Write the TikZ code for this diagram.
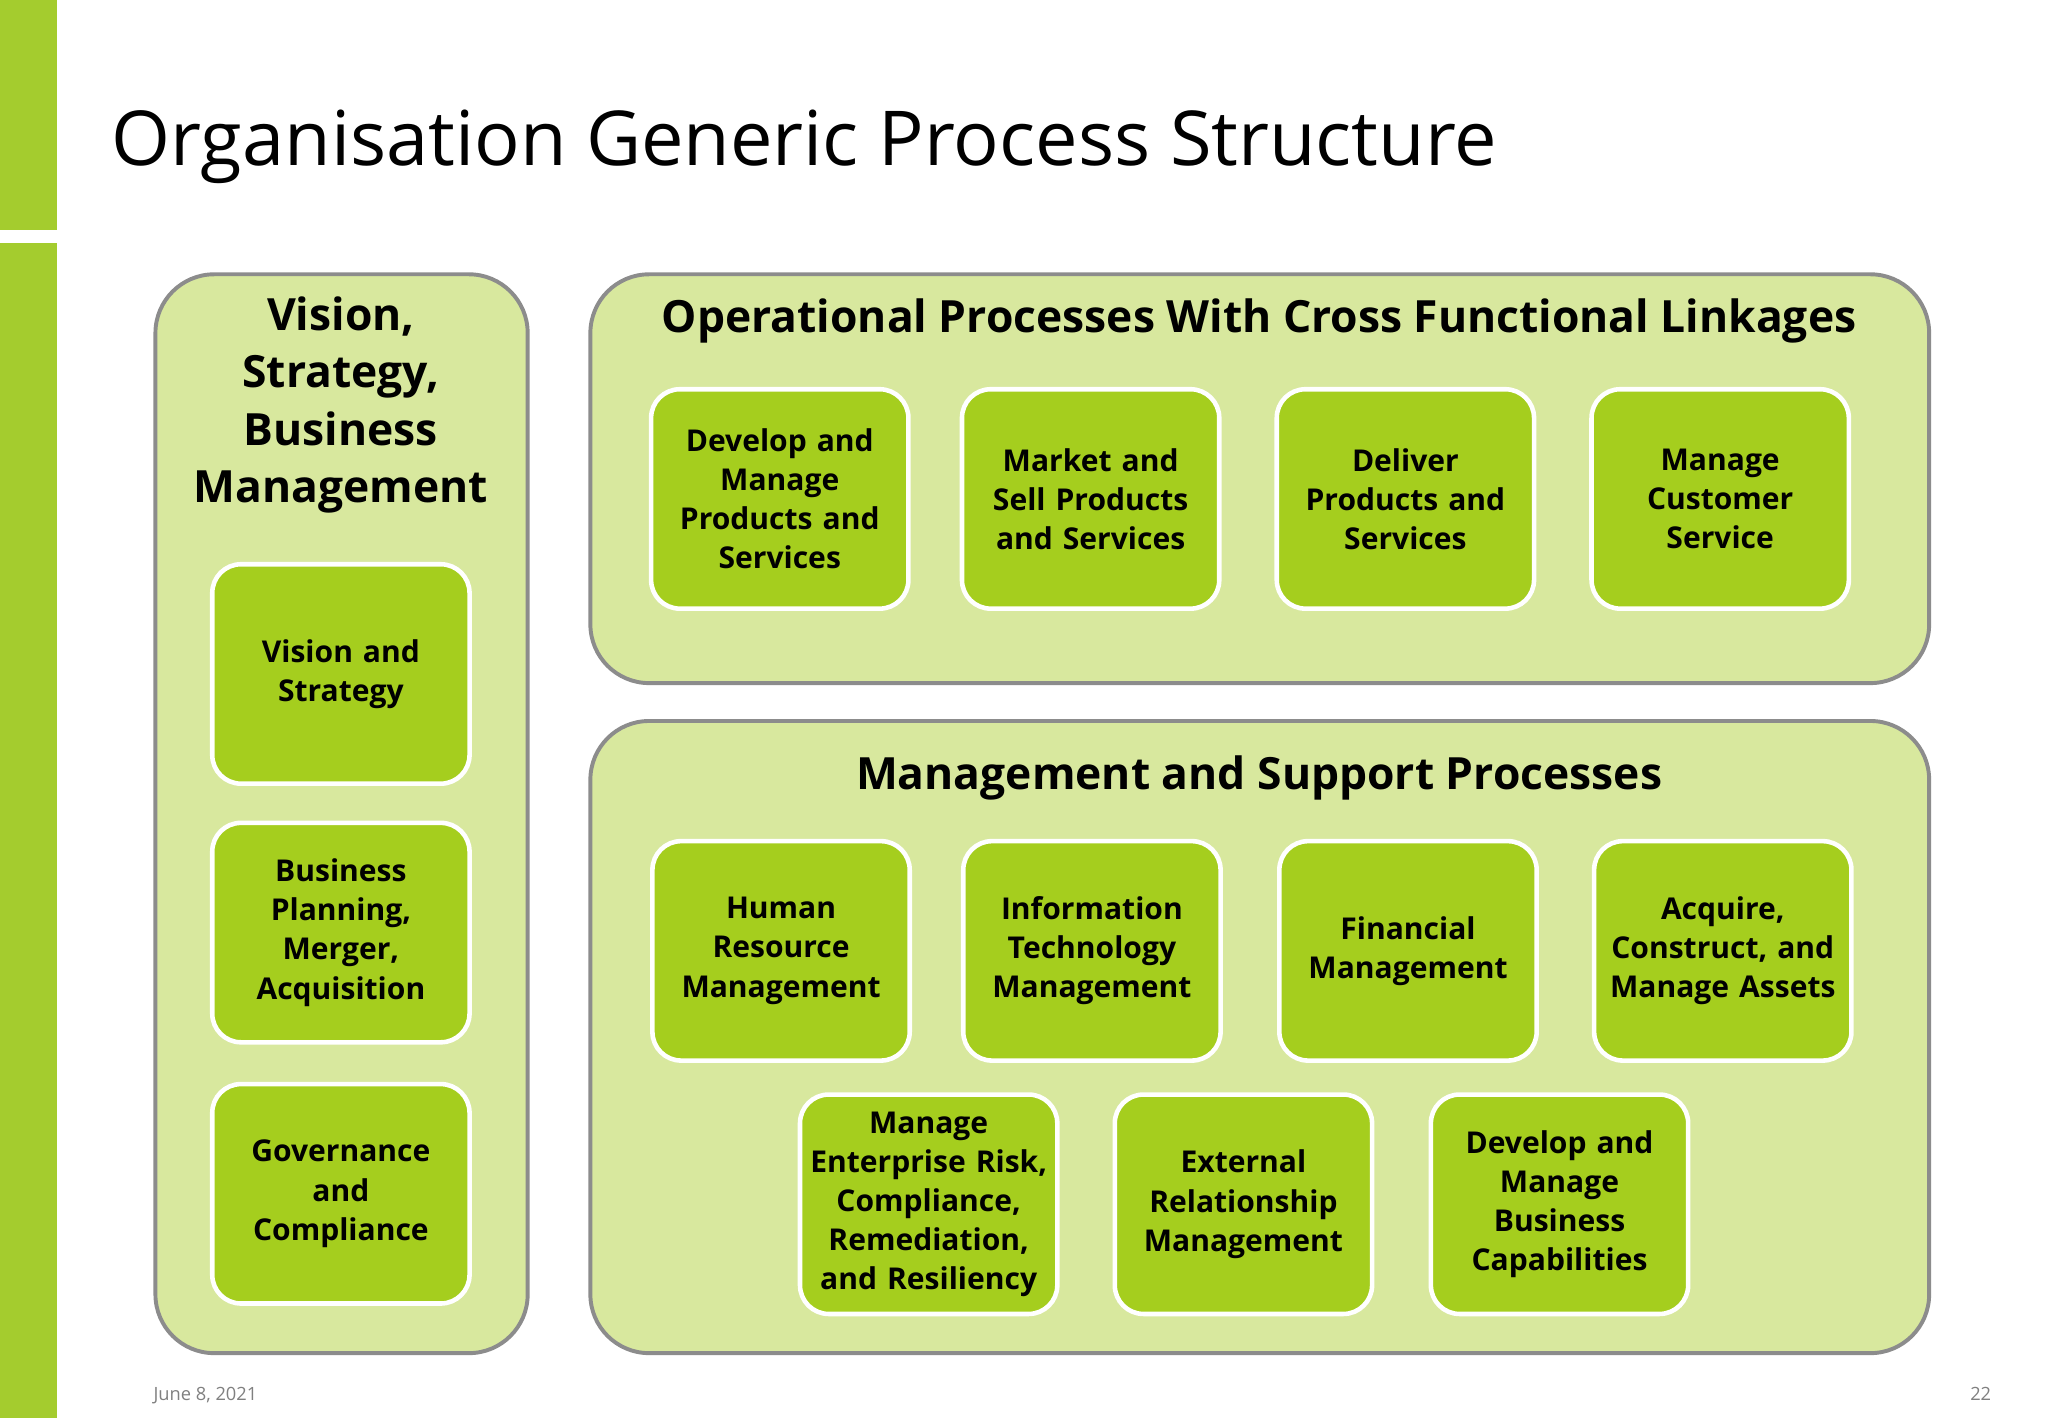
\documentclass[tikz,border=0pt]{standalone}
\usepackage{fontspec}
\setmainfont{Open Sans}
\definecolor{bar}{HTML}{A4CC2E}
\definecolor{panel}{HTML}{D8E89E}
\definecolor{box}{HTML}{A5CE1E}
\definecolor{edge}{HTML}{8C8C8C}
\begin{document}
\begin{tikzpicture}[x=1pt,y=-1pt,
 panel/.style={draw=edge,line width=3pt,fill=panel,rounded corners=45pt},
 box/.style={draw=white,line width=3.5pt,fill=box,rounded corners=22pt,minimum width=197pt,minimum height=168pt,align=center,font=\fontsize{23}{30}\selectfont\bfseries,text width=190pt},
 head/.style={font=\fontsize{34}{44}\selectfont\bfseries,align=center}]
\useasboundingbox (0,0) rectangle (1568,1086);
\fill[white] (0,0) rectangle (1568,1086);
\fill[bar] (0,0) rectangle (44,176);
\fill[bar] (0,186) rectangle (44,1086);
\node[anchor=base west,font=\fontsize{58}{60}\selectfont] (title) at (82,127) {Organisation Generic Process Structure};
% panels
\draw[panel] (119,210) rectangle (404,1036);
\draw[panel] (452,210) rectangle (1477,523);
\draw[panel] (452,552) rectangle (1477,1036);
\node[head] (h1) at (261,310) {Vision,\\Strategy,\\Business\\Management};
\node[head] (h2) at (964,246) {Operational Processes With Cross Functional Linkages};
\node[head] (h3) at (964,596) {Management and Support Processes};
% left
\node[box] (v1) at (261,516) {Vision and\\Strategy};
\node[box] (v2) at (261,714) {Business\\Planning,\\Merger,\\Acquisition};
\node[box] (v3) at (261,914) {Governance\\and\\Compliance};
% operational
\node[box] (o1) at (597,382) {Develop and\\Manage\\Products and\\Services};
\node[box] (o2) at (835,382) {Market and\\Sell Products\\and Services};
\node[box] (o3) at (1076,382) {Deliver\\Products and\\Services};
\node[box] (o4) at (1317,382) {Manage\\Customer\\Service};
% support
\node[box] (s1) at (598,728) {Human\\Resource\\Management};
\node[box] (s2) at (836,728) {Information\\Technology\\Management};
\node[box] (s3) at (1078,728) {Financial\\Management};
\node[box] (s4) at (1319,728) {Acquire,\\Construct, and\\Manage Assets};
\node[box] (s5) at (711,922) {Manage\\Enterprise Risk,\\Compliance,\\Remediation,\\and Resiliency};
\node[box] (s6) at (952,922) {External\\Relationship\\Management};
\node[box] (s7) at (1194,922) {Develop and\\Manage\\Business\\Capabilities};
\node[anchor=base west,text=gray,font=\fontsize{14}{16}\selectfont] (date) at (114,1072) {June 8, 2021};
\node[anchor=base east,text=gray,font=\fontsize{14}{16}\selectfont] (pg) at (1528,1072) {22};
\end{tikzpicture}
\end{document}
